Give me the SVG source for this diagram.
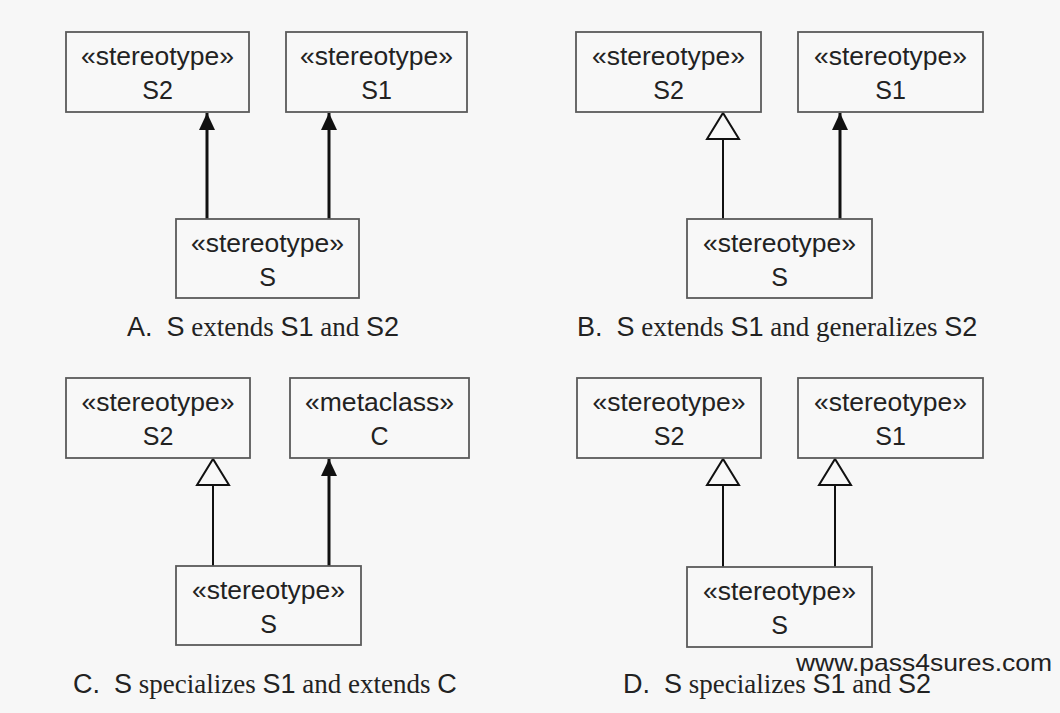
<svg xmlns="http://www.w3.org/2000/svg" width="1060" height="713" viewBox="0 0 1060 713">
<style>
.box{fill:#f8f8f8;stroke:#5a5a5a;stroke-width:1.8}
.lbl{font-family:"Liberation Sans",Arial,sans-serif;font-size:25px;fill:#222;text-anchor:middle}
.cap{font-size:27px;fill:#222}
.sans{font-family:"Liberation Sans",Arial,sans-serif}
.serif{font-family:"Liberation Serif","Times New Roman",serif}
.ext{stroke:#111;stroke-width:3;fill:none}
.gen{stroke:#111;stroke-width:2;fill:none}
</style>
<defs>
<marker id="filled" markerUnits="userSpaceOnUse" markerWidth="17" markerHeight="16" viewBox="0 0 17 16" refX="17" refY="8" orient="auto">
<path d="M0,0 L17,8 L0,16 Z" fill="#111"/>
</marker>
<marker id="hollow" markerUnits="userSpaceOnUse" markerWidth="30" markerHeight="36" viewBox="-2 -2 30 36" refX="26" refY="16" orient="auto">
<path d="M0,0 L26,16 L0,32 Z" fill="#f8f8f8" stroke="#111" stroke-width="2" stroke-linejoin="miter"/>
</marker>
</defs>
<rect width="1060" height="713" fill="#f7f7f7"/>

<g id="connectors">
<line class="ext" x1="207" y1="219" x2="207" y2="113" marker-end="url(#filled)"/>
<line class="ext" x1="329" y1="219" x2="329" y2="113" marker-end="url(#filled)"/>
<line class="gen" x1="723" y1="219" x2="723" y2="113" marker-end="url(#hollow)"/>
<line class="ext" x1="840" y1="219" x2="840" y2="113" marker-end="url(#filled)"/>
<line class="gen" x1="213" y1="566" x2="213" y2="459" marker-end="url(#hollow)"/>
<line class="ext" x1="329" y1="566" x2="329" y2="459" marker-end="url(#filled)"/>
<line class="gen" x1="723" y1="567" x2="723" y2="459" marker-end="url(#hollow)"/>
<line class="gen" x1="835" y1="567" x2="835" y2="459" marker-end="url(#hollow)"/>
</g>

<g id="A-S2"><rect class="box" x="66" y="32" width="183" height="80"/><text class="lbl" x="157.5" y="65" textLength="153" lengthAdjust="spacingAndGlyphs">«stereotype»</text><text class="lbl" x="157.5" y="99">S2</text></g>
<g id="A-S1"><rect class="box" x="286" y="32" width="181" height="80"/><text class="lbl" x="376.5" y="65" textLength="153" lengthAdjust="spacingAndGlyphs">«stereotype»</text><text class="lbl" x="376.5" y="99">S1</text></g>
<g id="A-S"><rect class="box" x="176" y="219" width="183" height="79"/><text class="lbl" x="267.5" y="252" textLength="153" lengthAdjust="spacingAndGlyphs">«stereotype»</text><text class="lbl" x="267.5" y="286">S</text></g>

<g id="B-S2"><rect class="box" x="576" y="32" width="185" height="80"/><text class="lbl" x="668.5" y="65" textLength="153" lengthAdjust="spacingAndGlyphs">«stereotype»</text><text class="lbl" x="668.5" y="99">S2</text></g>
<g id="B-S1"><rect class="box" x="798" y="32" width="185" height="80"/><text class="lbl" x="890.5" y="65" textLength="153" lengthAdjust="spacingAndGlyphs">«stereotype»</text><text class="lbl" x="890.5" y="99">S1</text></g>
<g id="B-S"><rect class="box" x="687" y="219" width="185" height="79"/><text class="lbl" x="779.5" y="252" textLength="153" lengthAdjust="spacingAndGlyphs">«stereotype»</text><text class="lbl" x="779.5" y="286">S</text></g>

<g id="C-S2"><rect class="box" x="66" y="378" width="184" height="80"/><text class="lbl" x="158" y="411" textLength="153" lengthAdjust="spacingAndGlyphs">«stereotype»</text><text class="lbl" x="158" y="445">S2</text></g>
<g id="C-C"><rect class="box" x="290" y="378" width="179" height="80"/><text class="lbl" x="379.5" y="411" textLength="149" lengthAdjust="spacingAndGlyphs">«metaclass»</text><text class="lbl" x="379.5" y="445">C</text></g>
<g id="C-S"><rect class="box" x="176" y="566" width="185" height="79"/><text class="lbl" x="268.5" y="599" textLength="153" lengthAdjust="spacingAndGlyphs">«stereotype»</text><text class="lbl" x="268.5" y="633">S</text></g>

<g id="D-S2"><rect class="box" x="577" y="378" width="184" height="80"/><text class="lbl" x="669" y="411" textLength="153" lengthAdjust="spacingAndGlyphs">«stereotype»</text><text class="lbl" x="669" y="445">S2</text></g>
<g id="D-S1"><rect class="box" x="798" y="378" width="185" height="80"/><text class="lbl" x="890.5" y="411" textLength="153" lengthAdjust="spacingAndGlyphs">«stereotype»</text><text class="lbl" x="890.5" y="445">S1</text></g>
<g id="D-S"><rect class="box" x="687" y="567" width="185" height="80"/><text class="lbl" x="779.5" y="600" textLength="153" lengthAdjust="spacingAndGlyphs">«stereotype»</text><text class="lbl" x="779.5" y="634">S</text></g>

<g id="captions">
<text class="cap" x="127" y="336"><tspan class="sans">A.</tspan><tspan class="sans" dx="14">S</tspan><tspan class="serif"> extends </tspan><tspan class="sans">S1</tspan><tspan class="serif"> and </tspan><tspan class="sans">S2</tspan></text>
<text class="cap" x="577" y="336"><tspan class="sans">B.</tspan><tspan class="sans" dx="14">S</tspan><tspan class="serif"> extends </tspan><tspan class="sans">S1</tspan><tspan class="serif"> and generalizes </tspan><tspan class="sans">S2</tspan></text>
<text class="cap" x="73" y="693"><tspan class="sans">C.</tspan><tspan class="sans" dx="14">S</tspan><tspan class="serif"> specializes </tspan><tspan class="sans">S1</tspan><tspan class="serif"> and extends </tspan><tspan class="sans">C</tspan></text>
<text class="cap" x="623" y="693"><tspan class="sans">D.</tspan><tspan class="sans" dx="14">S</tspan><tspan class="serif"> specializes </tspan><tspan class="sans">S1</tspan><tspan class="serif"> and </tspan><tspan class="sans">S2</tspan></text>
<text class="sans" x="796" y="671" font-size="24" fill="#222" textLength="256" lengthAdjust="spacingAndGlyphs">www.pass4sures.com</text>
</g>
</svg>
